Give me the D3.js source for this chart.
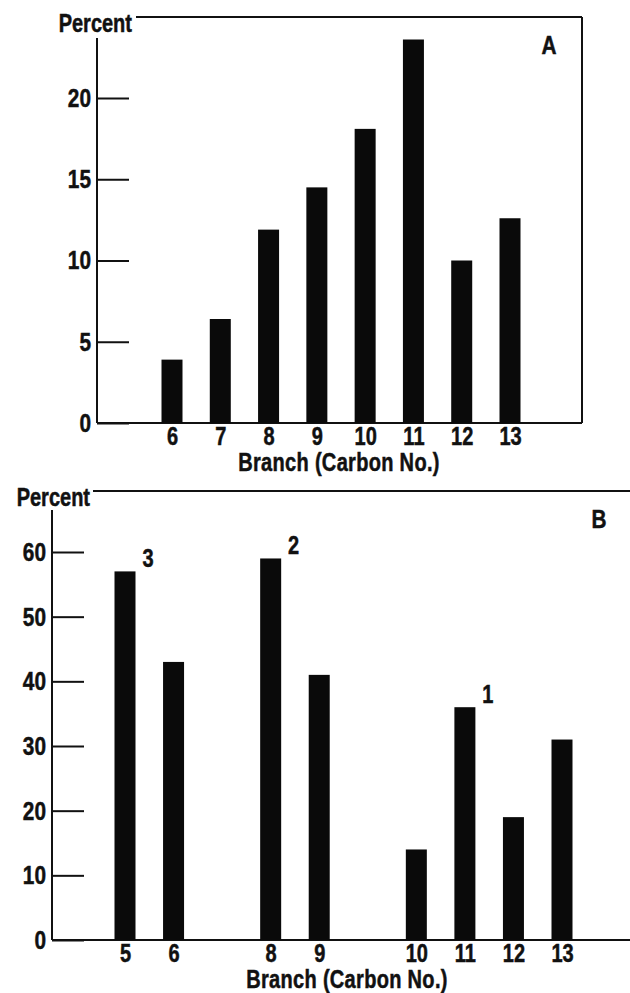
<!DOCTYPE html>
<html>
<head>
<meta charset="utf-8">
<script src="https://cdn.jsdelivr.net/npm/d3@7"></script>
<style>
  body { margin: 0; background: #fff; }
  svg text { font-family: 'Liberation Sans', Arial, sans-serif; font-weight: bold; fill: #111; stroke: #111; stroke-width: 0.5px; }
</style>
</head>
<body>
<svg id="chart" width="630" height="993"></svg>
<script>
// Panel A
const categoriesA = ["6", "7", "8", "9", "10", "11", "12", "13"];
const valuesA = [3.9, 6.4, 11.9, 14.5, 18.1, 23.6, 10.0, 12.6];
const yTicksA = [0, 5, 10, 15, 20];

// Panel B (blank slots are the gaps on the axis)
const slotsB = ["5", "6", "", "8", "9", " ", "10", "11", "12", "13"];
const categoriesB = ["5", "6", "8", "9", "10", "11", "12", "13"];
const valuesB = [57, 43, 59, 41, 14, 36, 19, 31];
const yTicksB = [0, 10, 20, 30, 40, 50, 60];
const rankLabelsB = [
    { branch: "5", rank: "3" },
    { branch: "8", rank: "2" },
    { branch: "11", rank: "1" }
];

const svg = d3.select("#chart");
const SQUEEZE = 0.8; // the original lettering is a narrow gothic

// squeeze text horizontally around its own anchor point
function squeeze(sel) {
    sel.each(function() {
        const t = d3.select(this);
        const x = +t.attr("x") || 0;
        t.attr("transform", `translate(${x},0) scale(${SQUEEZE},1) translate(${-x},0)`);
    });
}

function drawPanel(p) {
    const g = svg.append("g");

    const x = d3.scalePoint().domain(p.slots).range([p.x0, p.x1]);
    const y = d3.scaleLinear().domain([0, p.yMax]).range([p.bottom, p.yTop]);

    // frame
    g.append("line")
        .attr("x1", p.frameLeft).attr("x2", p.right)
        .attr("y1", p.top).attr("y2", p.top)
        .attr("stroke", "#111").attr("stroke-width", 2);
    if (p.rightBorder) {
        g.append("line")
            .attr("x1", p.right).attr("x2", p.right)
            .attr("y1", p.top).attr("y2", p.bottom)
            .attr("stroke", "#111").attr("stroke-width", 2);
    }
    g.append("line")
        .attr("x1", p.left).attr("x2", p.left)
        .attr("y1", p.axisTop).attr("y2", p.bottom)
        .attr("stroke", "#111").attr("stroke-width", 2);
    g.append("line")
        .attr("x1", p.left).attr("x2", p.right)
        .attr("y1", p.bottom).attr("y2", p.bottom)
        .attr("stroke", "#111").attr("stroke-width", 2);

    // y axis, ticks pointing inward
    const yAxis = g.append("g")
        .attr("transform", `translate(${p.left},0)`)
        .call(d3.axisLeft(y).tickValues(p.yTicks).tickSize(-32).tickPadding(6));
    yAxis.select(".domain").remove();
    yAxis.selectAll("line").attr("stroke", "#111").attr("stroke-width", 2);
    yAxis.selectAll("text").attr("font-size", 26).attr("fill", "#111");

    // x axis labels only
    const xAxis = g.append("g")
        .attr("transform", `translate(0,${p.bottom})`)
        .call(d3.axisBottom(x).tickSize(0).tickPadding(4));
    xAxis.select(".domain").remove();
    xAxis.selectAll("text").attr("font-size", 25).attr("fill", "#111");

    // bars
    g.selectAll("rect.bar")
        .data(p.categories.map((c, i) => ({ c, v: p.values[i] })))
        .enter()
        .append("rect")
        .attr("class", "bar")
        .attr("x", d => x(d.c) - p.barWidth / 2)
        .attr("y", d => y(d.v))
        .attr("width", p.barWidth)
        .attr("height", d => p.bottom - y(d.v))
        .attr("fill", "#0a0a0a");

    // titles
    g.append("text")
        .attr("x", p.percentRight).attr("y", p.top + 15)
        .attr("text-anchor", "end")
        .attr("font-size", 25)
        .text("Percent");

    g.append("text")
        .attr("x", p.xLabelX).attr("y", p.bottom + 48)
        .attr("text-anchor", "middle")
        .attr("font-size", 25)
        .attr("letter-spacing", 0.4)
        .text("Branch (Carbon No.)");

    g.append("text")
        .attr("x", p.letterX).attr("y", p.top + 37)
        .attr("text-anchor", "middle")
        .attr("font-size", 26)
        .text(p.letter);

    if (p.ranks) {
        const vals = new Map(p.categories.map((c, i) => [c, p.values[i]]));
        g.selectAll("text.rank")
            .data(p.ranks)
            .enter()
            .append("text")
            .attr("class", "rank")
            .attr("x", d => x(d.branch) + 23)
            .attr("y", d => y(vals.get(d.branch)) - 4)
            .attr("text-anchor", "middle")
            .attr("font-size", 25)
            .text(d => d.rank);
    }

    squeeze(g.selectAll("text"));
}

drawPanel({
    slots: categoriesA, categories: categoriesA, values: valuesA, yTicks: yTicksA,
    x0: 172, x1: 510, barWidth: 21,
    yMax: 20, yTop: 98, bottom: 423,
    left: 97, right: 582, top: 17, frameLeft: 136, axisTop: 38, percentRight: 132,
    rightBorder: true, xLabelX: 339, letterX: 549, letter: "A"
});

drawPanel({
    slots: slotsB, categories: categoriesB, values: valuesB, yTicks: yTicksB,
    x0: 125, x1: 562, barWidth: 21,
    yMax: 60, yTop: 552, bottom: 940,
    left: 52, right: 630, top: 491, frameLeft: 93, axisTop: 510, percentRight: 90,
    rightBorder: false, xLabelX: 347, letterX: 599, letter: "B",
    ranks: rankLabelsB
});
</script>
</body>
</html>
